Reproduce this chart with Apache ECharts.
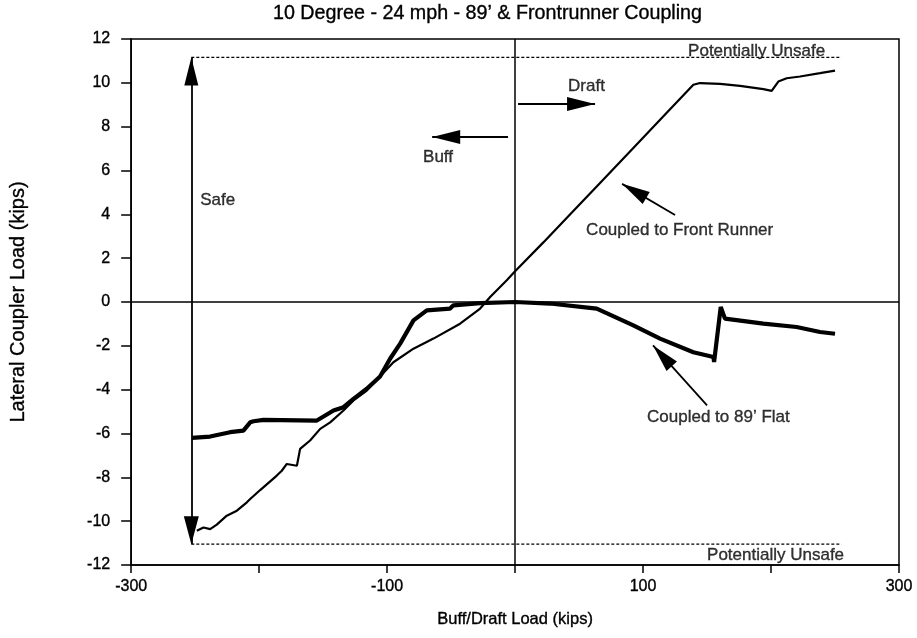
<!DOCTYPE html>
<html>
<head>
<meta charset="utf-8">
<script src="https://cdn.jsdelivr.net/npm/echarts@6/dist/echarts.min.js"></script>
<style>html,body{margin:0;padding:0;background:#fff}#c{width:917px;height:638px}</style>
</head>
<body>
<div id="c"></div>
<script>
// ---- Data ----
const chartTitle = "10 Degree - 24 mph - 89\u2019 & Frontrunner Coupling";
const xAxisName = "Buff/Draft Load (kips)";
const yAxisName = "Lateral Coupler Load (kips)";
const xTickLabels = [-300, -100, 100, 300];
const yTicks = [-12, -10, -8, -6, -4, -2, 0, 2, 4, 6, 8, 10, 12];

// Coupled to Front Runner (x = buff/draft load, y = lateral load)
const frontRunnerX = [-248.7, -243.5, -238.3, -233.1, -225.3, -217.4, -209.6, -207, -199.2, -186.2, -182.3, -178.4, -170.5, -168, -160.2, -152.3, -144.5, -134.1, -126.3, -115.9, -105.5, -95.1, -79.4, -63.8, -43, -27.3, -19.5, -6.5, 0, 22.1, 45.5, 66.4, 92.4, 118.5, 139.3, 144.5, 160.2, 175.8, 194, 200.5, 205.7, 212.2, 222.7, 238.3, 250];
const frontRunnerY = [-10.44, -10.29, -10.36, -10.16, -9.75, -9.52, -9.14, -8.99, -8.58, -7.92, -7.70, -7.39, -7.47, -6.70, -6.32, -5.79, -5.49, -4.95, -4.49, -4.04, -3.40, -2.75, -2.13, -1.67, -0.99, -0.30, 0.23, 0.99, 1.40, 2.72, 4.15, 5.43, 7.03, 8.63, 9.91, 9.99, 9.95, 9.86, 9.71, 9.63, 10.06, 10.21, 10.29, 10.44, 10.56];

// Coupled to 89' Flat
const flatX = [-252.6, -238.3, -222.7, -212.3, -207, -204.4, -196.6, -154.9, -141.9, -134.1, -126.3, -115.9, -105.5, -97.7, -89.8, -79.4, -69, -50.8, -48.2, -27.3, 0, 27.3, 63.8, 92.4, 113.3, 139.3, 155, 155.5, 160.7, 164, 194, 220, 238.3, 250];
const flatY = [-6.20, -6.14, -5.94, -5.87, -5.49, -5.44, -5.38, -5.41, -4.95, -4.80, -4.42, -3.96, -3.40, -2.59, -1.90, -0.84, -0.38, -0.30, -0.15, -0.05, 0, -0.07, -0.30, -1.07, -1.67, -2.29, -2.51, -2.74, -0.23, -0.76, -0.99, -1.14, -1.37, -1.45];

// Safety limits
const limitX = [-253, 255];
const upperLimit = 11.16;
const lowerLimit = -11.05;

// Annotation texts
const labelSafe = "Safe";
const labelUnsafe = "Potentially Unsafe";
const labelDraft = "Draft";
const labelBuff = "Buff";
const labelFR = "Coupled to Front Runner";
const labelFlat = "Coupled to 89\u2019 Flat";

// ---- Build ----
const zip = (xs, ys) => xs.map((x, i) => [x, ys[i]]);
const FONT = "'Liberation Sans', Arial, Helvetica, sans-serif";
const ink = '#000';

const textPts = [
  { value: [-246.1, 4.62], text: labelSafe },
  { value: [135.2, 11.42], text: labelUnsafe },
  { value: [150, -11.58], text: labelUnsafe },
  { value: [41.4, 9.82], text: labelDraft },
  { value: [-71.9, 6.62], text: labelBuff },
  { value: [55.5, 3.28], text: labelFR },
  { value: [103.1, -5.27], text: labelFlat }
];

const arrowLines = [
  { from: [-253, lowerLimit], to: [-253, upperLimit], both: true },
  { from: [2.3, 9.03], to: [62.5, 9.03] },
  { from: [-5.5, 7.53], to: [-64.8, 7.53] },
  { from: [125, 3.97], to: [83.6, 5.39] },
  { from: [150, -4.72], to: [107.8, -1.98] }
];

const boldish = { textBorderColor: ink, textBorderWidth: 0.35 };

const chart = echarts.init(document.getElementById('c'), null, { renderer: 'canvas' });
chart.setOption({
  backgroundColor: '#fff',
  animation: false,
  textStyle: { fontFamily: FONT, color: ink },
  title: {
    text: chartTitle,
    left: 268, top: -1,
    textStyle: Object.assign({ fontFamily: FONT, fontSize: 19.7, fontWeight: 'normal', color: ink }, boldish)
  },
  grid: { left: 131, right: 18, top: 39, bottom: 73, show: true, borderColor: ink, borderWidth: 1.5, backgroundColor: 'transparent' },
  xAxis: {
    type: 'value', min: -300, max: 300, interval: 100,
    name: xAxisName, nameLocation: 'middle', nameGap: 46,
    nameTextStyle: Object.assign({ fontFamily: FONT, fontSize: 16.5, color: ink }, boldish),
    axisLine: { onZero: false, lineStyle: { color: ink, width: 1.5 } },
    axisTick: { show: true, length: 8, inside: false, lineStyle: { color: ink, width: 1.5 } },
    axisLabel: Object.assign({
      margin: 14, fontFamily: FONT, fontSize: 16, color: ink,
      formatter: v => xTickLabels.indexOf(v) >= 0 ? String(v) : ''
    }, boldish),
    splitLine: { show: false }
  },
  yAxis: {
    type: 'value', min: -12, max: 12, interval: 2,
    name: yAxisName, nameLocation: 'middle', nameGap: 103, nameRotate: 90,
    nameTextStyle: Object.assign({ fontFamily: FONT, fontSize: 20, color: ink }, boldish),
    axisLine: { onZero: false, lineStyle: { color: ink, width: 1.5 } },
    axisTick: { show: true, length: 10, lineStyle: { color: ink, width: 1.5 } },
    axisLabel: Object.assign({ margin: 21, fontFamily: FONT, fontSize: 16, color: ink,
      formatter: v => yTicks.indexOf(v) >= 0 ? String(v) : '' }, boldish),
    splitLine: { show: false }
  },
  series: [
    {
      name: 'axes-zero', type: 'line', data: [], silent: true,
      markLine: {
        silent: true, symbol: ['none', 'none'], label: { show: false },
        lineStyle: { color: ink, width: 1.5, type: 'solid' },
        data: [{ xAxis: 0 }, { yAxis: 0 }]
      }
    },
    {
      name: 'Upper limit', type: 'line', showSymbol: false, silent: true,
      data: limitX.map(x => [x, upperLimit]),
      lineStyle: { color: ink, width: 1.2, type: [3, 2] }
    },
    {
      name: 'Lower limit', type: 'line', showSymbol: false, silent: true,
      data: limitX.map(x => [x, lowerLimit]),
      lineStyle: { color: ink, width: 1.2, type: [3, 2] }
    },
    {
      name: labelFR, type: 'line', showSymbol: false,
      data: zip(frontRunnerX, frontRunnerY),
      lineStyle: { color: ink, width: 2.2 }
    },
    {
      name: labelFlat, type: 'line', showSymbol: false,
      data: zip(flatX, flatY),
      lineStyle: { color: ink, width: 4.2 }
    },
    {
      name: 'arrows', type: 'line', data: [], silent: true,
      markLine: {
        silent: true, label: { show: false },
        lineStyle: { color: ink, width: 1.8, type: 'solid' },
        data: arrowLines.map(a => [
          { coord: a.from, symbol: a.both ? 'triangle' : 'none', symbolSize: [15, 28], symbolOffset: [0, 14] },
          { coord: a.to, symbol: 'triangle', symbolSize: [14, 28], symbolOffset: [0, 14] }
        ])
      }
    },
    {
      name: 'labels', type: 'scatter', symbolSize: 0, silent: true,
      data: textPts.map(t => ({ value: t.value, name: t.text })),
      label: Object.assign({
        show: true, position: [0, 0], align: 'left', verticalAlign: 'middle',
        formatter: p => p.name, fontFamily: FONT, fontSize: 17, color: ink
      }, boldish)
    }
  ]
});
</script>
</body>
</html>
